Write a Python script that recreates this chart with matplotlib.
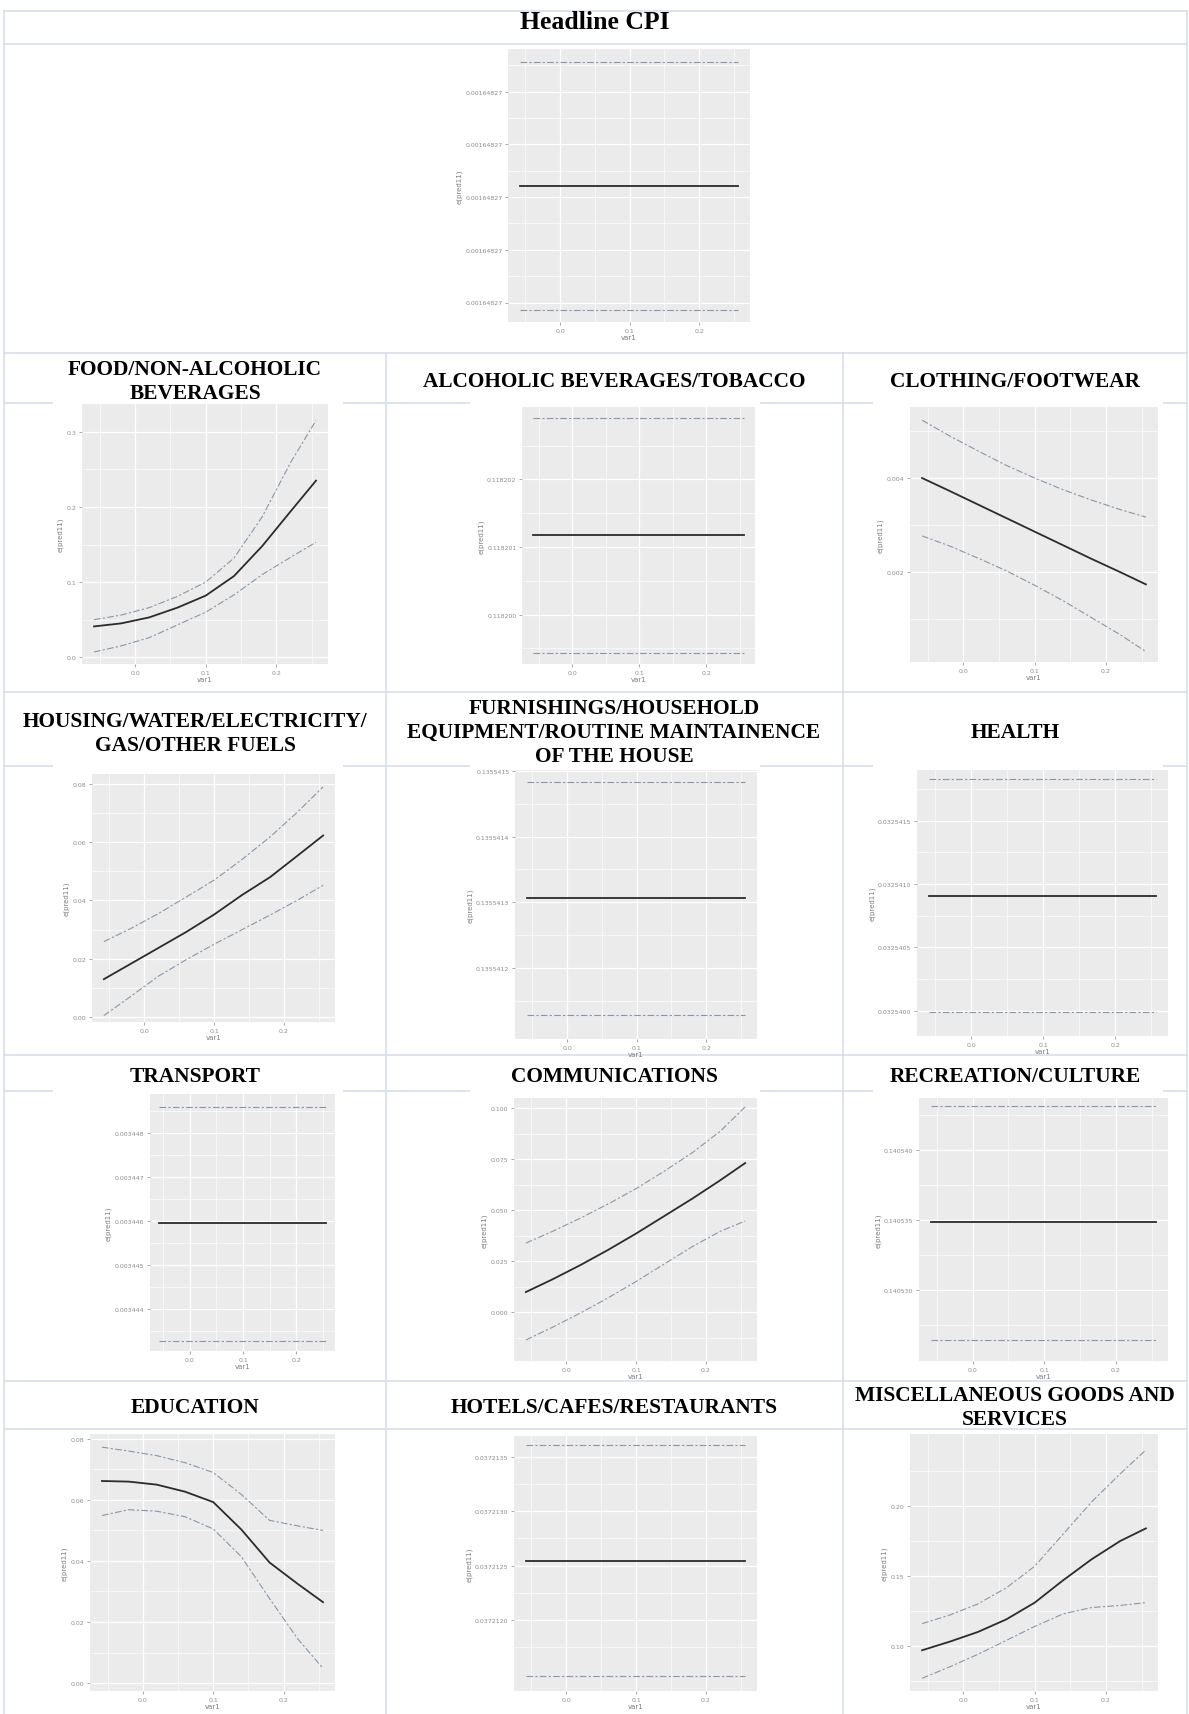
import numpy as np
import matplotlib.pyplot as plt
from matplotlib.lines import Line2D
from matplotlib.patches import Rectangle
from matplotlib.ticker import FixedLocator, FormatStrFormatter

W, H = 1189, 1715

# common x grid of the smooth terms
var1 = [-0.058, -0.02, 0.02, 0.06, 0.10, 0.14, 0.18, 0.22, 0.256]
var1_ends = [-0.058, 0.256]
x_ticks = [0.0, 0.1, 0.2]
x_labels = ['0.0', '0.1', '0.2']

# Headline CPI (flat)
headline_fit = [0.001648270021, 0.001648270021]
headline_upper = [0.001648270256, 0.001648270256]
headline_lower = [0.001648269786, 0.001648269786]
headline_ticks = [0.0016482698, 0.0016482699, 0.0016482700, 0.0016482701, 0.0016482702]

# Food / non-alcoholic beverages
food_fit = [0.041, 0.045, 0.053, 0.066, 0.082, 0.108, 0.148, 0.194, 0.235]
food_upper = [0.050, 0.056, 0.066, 0.081, 0.100, 0.132, 0.187, 0.259, 0.315]
food_lower = [0.007, 0.015, 0.026, 0.043, 0.060, 0.083, 0.110, 0.133, 0.153]
food_ticks = [0.0, 0.1, 0.2, 0.3]

# Alcoholic beverages / tobacco (flat)
alcohol_fit = [0.11820118, 0.11820118]
alcohol_upper = [0.11820291, 0.11820291]
alcohol_lower = [0.11819943, 0.11819943]
alcohol_ticks = [0.118200, 0.118201, 0.118202]

# Clothing / footwear
clothing_fit = [0.00400, 0.00373, 0.00344, 0.00315, 0.00286, 0.00257, 0.00228, 0.00200, 0.00174]
clothing_upper = [0.00523, 0.00490, 0.00458, 0.00427, 0.00400, 0.00375, 0.00353, 0.00333, 0.00317]
clothing_lower = [0.00277, 0.00256, 0.00230, 0.00203, 0.00172, 0.00139, 0.00103, 0.00067, 0.00031]
clothing_ticks = [0.002, 0.004]

# Housing / water / electricity / gas
housing_fit = [0.0130, 0.0182, 0.0237, 0.0292, 0.0352, 0.0419, 0.0480, 0.0555, 0.0623]
housing_upper = [0.0259, 0.0303, 0.0355, 0.0412, 0.0470, 0.0541, 0.0618, 0.0705, 0.0790]
housing_lower = [0.0005, 0.0070, 0.0140, 0.0197, 0.0250, 0.0300, 0.0350, 0.0402, 0.0452]
housing_ticks = [0.00, 0.02, 0.04, 0.06, 0.08]

# Furnishings (flat)
furnish_fit = [0.1355413065, 0.1355413065]
furnish_upper = [0.1355414831, 0.1355414831]
furnish_lower = [0.1355411285, 0.1355411285]
furnish_ticks = [0.1355412, 0.1355413, 0.1355414, 0.1355415]

# Health (flat)
health_fit = [0.032540905, 0.032540905]
health_upper = [0.03254183, 0.03254183]
health_lower = [0.03253999, 0.03253999]
health_ticks = [0.0325400, 0.0325405, 0.0325410, 0.0325415]

# Transport (flat)
transport_fit = [0.003445955, 0.003445955]
transport_upper = [0.00344859, 0.00344859]
transport_lower = [0.003443273, 0.003443273]
transport_ticks = [0.003444, 0.003445, 0.003446, 0.003447, 0.003448]

# Communications
comm_fit = [0.0098, 0.0160, 0.0230, 0.0305, 0.0385, 0.0470, 0.0555, 0.0645, 0.0730]
comm_upper = [0.0338, 0.0395, 0.0460, 0.0530, 0.0605, 0.0690, 0.0780, 0.0885, 0.1005]
comm_lower = [-0.0137, -0.0075, -0.0005, 0.0070, 0.0150, 0.0235, 0.0320, 0.0395, 0.0446]
comm_ticks = [0.000, 0.025, 0.050, 0.075, 0.100]

# Recreation / culture (flat)
recreation_fit = [0.140534857, 0.140534857]
recreation_upper = [0.14054314, 0.14054314]
recreation_lower = [0.14052643, 0.14052643]
recreation_ticks = [0.140530, 0.140535, 0.140540]

# Education
education_fit = [0.0662, 0.0660, 0.0650, 0.0627, 0.0593, 0.0503, 0.0395, 0.0325, 0.0265]
education_upper = [0.0773, 0.0760, 0.0745, 0.0722, 0.0690, 0.0618, 0.0533, 0.0515, 0.0500]
education_lower = [0.0549, 0.0568, 0.0563, 0.0545, 0.0505, 0.0414, 0.0277, 0.0145, 0.0048]
education_ticks = [0.00, 0.02, 0.04, 0.06, 0.08]

# Hotels / cafes / restaurants (flat)
hotels_fit = [0.03721254, 0.03721254]
hotels_upper = [0.03721361, 0.03721361]
hotels_lower = [0.03721149, 0.03721149]
hotels_ticks = [0.0372120, 0.0372125, 0.0372130, 0.0372135]

# Miscellaneous goods and services
misc_fit = [0.097, 0.103, 0.110, 0.119, 0.131, 0.147, 0.162, 0.175, 0.184]
misc_upper = [0.116, 0.122, 0.130, 0.1415, 0.157, 0.180, 0.203, 0.223, 0.240]
misc_lower = [0.077, 0.085, 0.094, 0.104, 0.114, 0.123, 0.1275, 0.129, 0.131]
misc_ticks = [0.10, 0.15, 0.20]


def fig_box(x0, y0, x1, y1):
    return [x0 / W, 1 - y1 / H, (x1 - x0) / W, (y1 - y0) / H]


def hline(fig, y, x0=4, x1=1187):
    fig.add_artist(Line2D([x0 / W, x1 / W], [1 - y / H, 1 - y / H], color='#d3dcea',
                          lw=1.1, zorder=-3, transform=fig.transFigure))


def vline(fig, x, y0, y1=H):
    fig.add_artist(Line2D([x / W, x / W], [1 - y0 / H, 1 - y1 / H], color='#d3dcea',
                          lw=1.1, zorder=-3, transform=fig.transFigure))


def gg_panel(fig, px, x, fit, upper, lower, yticks, ylim, fmt):
    ax = fig.add_axes(fig_box(*px))
    ax.set_facecolor('#EBEBEB')
    for s in ax.spines.values():
        s.set_visible(False)
    ax.set_xlim(-0.075, 0.273)
    ax.set_ylim(*ylim)
    ax.xaxis.set_major_locator(FixedLocator(x_ticks))
    ax.set_xticklabels(x_labels)
    ax.xaxis.set_minor_locator(FixedLocator([-0.05, 0.05, 0.15, 0.25]))
    ax.yaxis.set_major_locator(FixedLocator(yticks))
    ax.yaxis.set_major_formatter(FormatStrFormatter(fmt))
    step = yticks[1] - yticks[0]
    ax.yaxis.set_minor_locator(FixedLocator([t + step / 2 for t in [yticks[0] - step] + list(yticks)]))
    ax.grid(which='major', color='white', lw=0.9)
    ax.grid(which='minor', color='white', lw=0.45)
    ax.set_axisbelow(True)
    ax.tick_params(which='major', length=2.5, width=0.6, color='#9a9a9a', labelsize=4.5,
                   labelcolor='#8c8c8c', pad=1.5)
    ax.tick_params(which='minor', length=0)
    ax.set_xlabel('var1', fontsize=5, color='#7c7c7c', labelpad=1)
    ax.set_ylabel('e(pred11)', fontsize=5, color='#7c7c7c', labelpad=2)
    ax.plot(x, upper, color='#8797a8', lw=0.8, ls=(0, (6, 2, 2, 2)))
    ax.plot(x, lower, color='#8797a8', lw=0.8, ls=(0, (6, 2, 2, 2)))
    ax.plot(x, fit, color='#2b2b2b', lw=1.3)
    return ax


def header(fig, lines, cx, cy, pitch=24, size=15.4):
    top = cy - pitch * (len(lines) - 1) / 2
    for i, s in enumerate(lines):
        fig.text(cx / W, 1 - (top + i * pitch + size * 0.5) / H, s, ha='center', va='baseline',
                 fontsize=size, fontweight='bold', family='Liberation Serif')


fig = plt.figure(figsize=(W / 100, H / 100), dpi=100)

# table rules
for y in [12, 45, 354, 404, 693, 767, 1056, 1092, 1382, 1430]:
    hline(fig, y)
vline(fig, 4, 12)
vline(fig, 1187, 12)
vline(fig, 386, 354)
vline(fig, 843, 354)

# white backgrounds of the embedded plots sit over the rules
for cx0 in [53, 470, 873]:
    for cy0, cy1 in [(396, 690), (760, 1053), (1085, 1379)]:
        fig.add_artist(Rectangle((cx0 / W, 1 - cy1 / H), 290 / W, (cy1 - cy0) / H,
                                 transform=fig.transFigure, facecolor='white',
                                 edgecolor='none', zorder=-2))

header(fig, ['Headline CPI'], 595, 20, size=18.5)
header(fig, ['FOOD/NON-ALCOHOLIC', 'BEVERAGES'], 195, 379)
header(fig, ['ALCOHOLIC BEVERAGES/TOBACCO'], 614, 379)
header(fig, ['CLOTHING/FOOTWEAR'], 1015, 379)
header(fig, ['HOUSING/WATER/ELECTRICITY/', 'GAS/OTHER FUELS'], 195, 731)
header(fig, ['FURNISHINGS/HOUSEHOLD', 'EQUIPMENT/ROUTINE MAINTAINENCE', 'OF THE HOUSE'], 614, 730)
header(fig, ['HEALTH'], 1015, 730)
header(fig, ['TRANSPORT'], 195, 1074)
header(fig, ['COMMUNICATIONS'], 614, 1074)
header(fig, ['RECREATION/CULTURE'], 1015, 1074)
header(fig, ['EDUCATION'], 195, 1405)
header(fig, ['HOTELS/CAFES/RESTAURANTS'], 614, 1405)
header(fig, ['MISCELLANEOUS GOODS AND', 'SERVICES'], 1015, 1405)

gg_panel(fig, (508, 50, 750, 323), var1_ends, headline_fit, headline_upper, headline_lower,
         headline_ticks, (0.001648269763, 0.001648270281), '%.8f')
gg_panel(fig, (82, 405, 328, 665), var1, food_fit, food_upper, food_lower,
         food_ticks, (-0.009, 0.337), '%.1f')
gg_panel(fig, (522, 408, 755, 665), var1_ends, alcohol_fit, alcohol_upper, alcohol_lower,
         alcohol_ticks, (0.11819927, 0.11820307), '%.6f')
gg_panel(fig, (910, 408, 1158, 663), var1, clothing_fit, clothing_upper, clothing_lower,
         clothing_ticks, (0.00009, 0.00551), '%.3f')
gg_panel(fig, (92, 775, 335, 1023), var1, housing_fit, housing_upper, housing_lower,
         housing_ticks, (-0.0017, 0.0834), '%.2f')
gg_panel(fig, (515, 771, 757, 1040), var1_ends, furnish_fit, furnish_upper, furnish_lower,
         furnish_ticks, (0.135541092, 0.1355415014), '%.7f')
gg_panel(fig, (917, 771, 1168, 1037), var1_ends, health_fit, health_upper, health_lower,
         health_ticks, (0.0325398, 0.0325419), '%.7f')
gg_panel(fig, (150, 1095, 335, 1352), var1_ends, transport_fit, transport_upper, transport_lower,
         transport_ticks, (0.003443045, 0.003448886), '%.6f')
gg_panel(fig, (514, 1099, 757, 1362), var1, comm_fit, comm_upper, comm_lower,
         comm_ticks, (-0.024, 0.1049), '%.3f')
gg_panel(fig, (919, 1099, 1168, 1362), var1_ends, recreation_fit, recreation_upper, recreation_lower,
         recreation_ticks, (0.14052493, 0.1405437), '%.6f')
gg_panel(fig, (90, 1435, 335, 1692), var1, education_fit, education_upper, education_lower,
         education_ticks, (-0.0026, 0.0816), '%.2f')
gg_panel(fig, (514, 1437, 757, 1692), var1_ends, hotels_fit, hotels_upper, hotels_lower,
         hotels_ticks, (0.03721135, 0.03721369), '%.7f')
gg_panel(fig, (910, 1435, 1158, 1692), var1, misc_fit, misc_upper, misc_lower,
         misc_ticks, (0.0679, 0.2514), '%.2f')

plt.savefig('out.png', dpi=100)
